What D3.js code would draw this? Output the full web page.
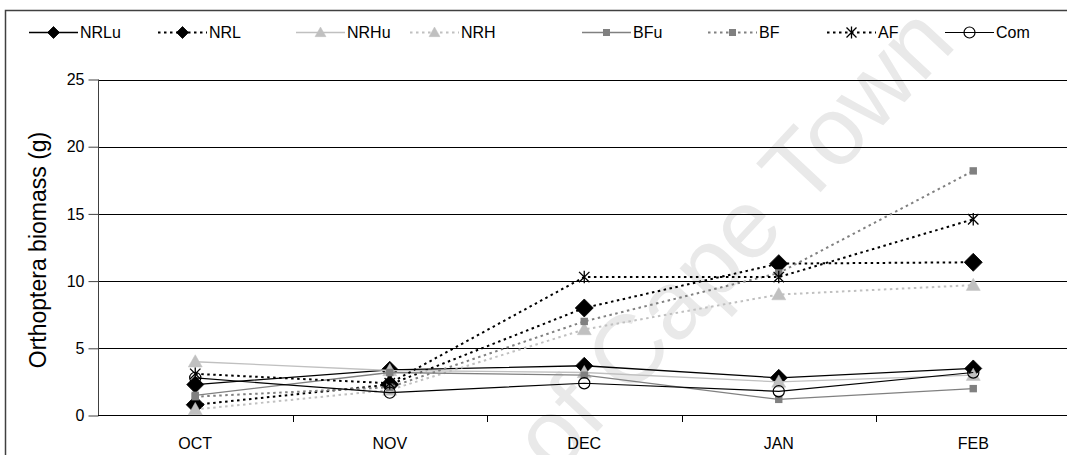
<!DOCTYPE html>
<html><head><meta charset="utf-8">
<script src="https://cdn.jsdelivr.net/npm/d3@7"></script>
<style>
html,body{margin:0;padding:0;background:#fff;}
svg{display:block;font-family:"Liberation Sans",Arial,sans-serif;}
</style></head>
<body>
<svg id="c" width="1067" height="455"></svg>
<script>
const months = ["OCT","NOV","DEC","JAN","FEB"];
const yTicks = [0,5,10,15,20,25];
const NRLu = [2.3, 3.4, 3.7, 2.8, 3.5];
const NRL  = [0.8, 2.3, 8.0, 11.3, 11.4];
const NRHu = [4.0, 3.35, 3.2, 2.5, 3.0];
const NRH  = [0.45, 1.9, 6.4, 9.0, 9.7];
const BFu  = [1.5, 3.2, 3.0, 1.2, 2.0];
const BF   = [1.4, 2.1, 7.0, 10.6, 18.2];
const AF   = [3.1, 2.4, 10.3, 10.3, 14.6];
const Com  = [2.8, 1.7, 2.4, 1.8, 3.2];
const seriesNames = ["NRLu","NRL","NRHu","NRH","BFu","BF","AF","Com"];
const seriesValues = [NRLu,NRL,NRHu,NRH,BFu,BF,AF,Com];

const styles = {
  NRLu:{stroke:"#000",w:1.3,dash:null,marker:"diamond",size:8.5,fill:"#000",legX:29,legSize:6},
  NRL:{stroke:"#000",w:2,dash:"2.5,3.5",marker:"diamond",size:9,fill:"#000",legX:158,legSize:6},
  NRHu:{stroke:"#c0c0c0",w:1.3,dash:null,marker:"triangle",size:7,fill:"#c0c0c0",legX:296,legSize:5.5},
  NRH:{stroke:"#c0c0c0",w:2,dash:"2.5,3.5",marker:"triangle",size:7,fill:"#c0c0c0",legX:410,legSize:5.5},
  BFu:{stroke:"#808080",w:1.3,dash:null,marker:"square",size:3.7,fill:"#808080",legX:582,legSize:3.5},
  BF:{stroke:"#808080",w:2,dash:"2.5,3.5",marker:"square",size:3.7,fill:"#808080",legX:708,legSize:3.5},
  AF:{stroke:"#000",w:2,dash:"2.5,3.5",marker:"star",size:5.2,fill:"none",legX:827,legSize:5},
  Com:{stroke:"#000",w:1.2,dash:null,marker:"circle",size:5.6,fill:"none",legX:945,legSize:5.5}
};
const FONT = "Liberation Sans, Arial, sans-serif";

const svg = d3.select("#c");
const x = d3.scaleBand().domain(months).range([98, 1070.5]);
const y = d3.scaleLinear().domain([0,25]).range([415.5, 79.5]);
const cx = m => x(m) + x.bandwidth()/2;

// watermark
svg.append("text").attr("x",0).attr("y",0)
  .attr("transform","translate(958,45) rotate(-47)")
  .attr("text-anchor","end").attr("font-size",97).attr("fill","#e9e9e9")
  .attr("font-family",FONT)
  .text("University of Cape Town");

// outer frame
svg.append("rect").attr("x",5.5).attr("y",10.5).attr("width",1080).attr("height",460)
  .attr("fill","none").attr("stroke","#404040").attr("stroke-width",1.5);

// gridlines
svg.append("g").selectAll("line").data(yTicks.filter(t=>t>0)).join("line")
  .attr("x1",98).attr("x2",1070).attr("y1",d=>Math.round(y(d))+0.5).attr("y2",d=>Math.round(y(d))+0.5)
  .attr("stroke","#000").attr("stroke-width",1);

// y axis
const ya = svg.append("g").attr("transform","translate(98.5,0)")
  .call(d3.axisLeft(y).tickValues(yTicks).tickSize(10).tickPadding(4));
ya.select(".domain").attr("stroke","#404040").attr("d","M0,79.5V415.5");
ya.selectAll(".tick line").attr("stroke","#404040");
ya.selectAll(".tick text").attr("font-size",16).attr("fill","#000").attr("font-family",FONT);

// x axis
const xa = svg.append("g").attr("transform","translate(0,415.5)")
  .call(d3.axisBottom(x).tickSize(0).tickPadding(22));
xa.select(".domain").attr("stroke","#000").attr("d","M98,0H1070");
xa.selectAll(".tick text").attr("font-size",16).attr("fill","#000").attr("font-family",FONT);
svg.append("g").selectAll("line").data(months.slice(1)).join("line")
  .attr("x1",d=>Math.round(x(d))+0.5).attr("x2",d=>Math.round(x(d))+0.5)
  .attr("y1",415.5).attr("y2",422).attr("stroke","#000");

// y title
svg.append("text").attr("transform","translate(46,250) rotate(-90)")
  .attr("text-anchor","middle").attr("font-size",23).attr("fill","#000").attr("font-family",FONT)
  .text("Orthoptera biomass (g)");

function drawMarker(g, type, s, fill){
  if(type==="diamond"){
    g.append("path").attr("d",`M0,${-s}L${s},0L0,${s}L${-s},0Z`).attr("fill",fill).attr("stroke","#000").attr("stroke-width",0.8);
  } else if(type==="triangle"){
    g.append("path").attr("d",`M0,${-s}L${s},${s*0.75}L${-s},${s*0.75}Z`).attr("fill",fill).attr("stroke",fill).attr("stroke-width",0.5);
  } else if(type==="square"){
    g.append("rect").attr("x",-s).attr("y",-s).attr("width",2*s).attr("height",2*s).attr("fill",fill);
  } else if(type==="star"){
    g.append("path").attr("d",`M${-s},${-s}L${s},${s}M${-s},${s}L${s},${-s}M0,${-s*1.2}V${s*1.2}`).attr("stroke","#000").attr("stroke-width",1.3).attr("fill","none");
  } else if(type==="circle"){
    g.append("circle").attr("r",s).attr("fill","none").attr("stroke","#000").attr("stroke-width",1.2);
  }
}

const line = d3.line().x((d,i)=>cx(months[i])).y(d=>y(d));
const plot = svg.append("g");
seriesNames.forEach((name,k)=>{
  const st = styles[name];
  const vals = seriesValues[k];
  plot.append("path").datum(vals).attr("d",line).attr("fill","none")
    .attr("stroke",st.stroke).attr("stroke-width",st.w).attr("stroke-dasharray",st.dash);
  vals.forEach((v,i)=>{
    const g = plot.append("g").attr("transform",`translate(${cx(months[i])},${y(v)})`);
    drawMarker(g, st.marker, st.size, st.fill);
  });
});

// legend
const leg = svg.append("g");
seriesNames.forEach(name=>{
  const st = styles[name];
  const ly = 32.5;
  leg.append("line").attr("x1",st.legX).attr("x2",st.legX+49).attr("y1",ly).attr("y2",ly)
    .attr("stroke",st.stroke).attr("stroke-width",st.w).attr("stroke-dasharray",st.dash);
  const g = leg.append("g").attr("transform",`translate(${st.legX+24.5},${ly})`);
  drawMarker(g, st.marker, st.legSize, st.fill);
  leg.append("text").attr("x",st.legX+51).attr("y",ly+5.5).attr("font-size",16).attr("fill","#000").attr("font-family",FONT).text(name);
});
</script>
</body></html>
